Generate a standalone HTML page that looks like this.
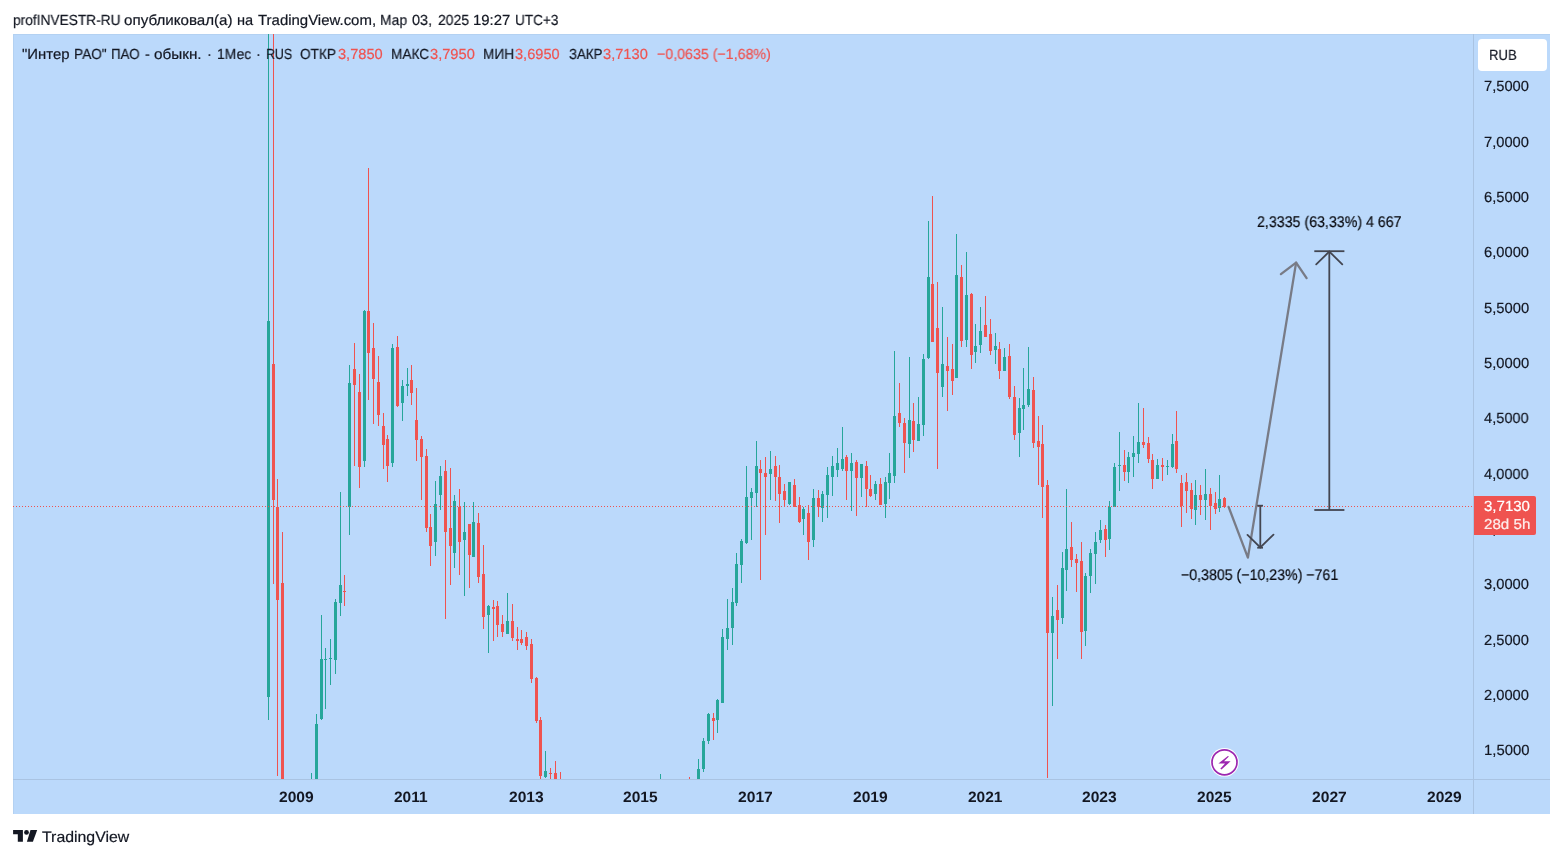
<!DOCTYPE html>
<html><head><meta charset="utf-8"><title>chart</title>
<style>
html,body{margin:0;padding:0;background:#fff;}
body{width:1563px;height:858px;position:relative;overflow:hidden;font-family:"Liberation Sans", sans-serif;}
.t{position:absolute;white-space:pre;transform-origin:0 0;display:block;will-change:transform;text-rendering:geometricPrecision;-webkit-text-stroke:0.2px;}
#chart{position:absolute;left:13px;top:34px;width:1537px;height:780px;background:#BBD9FB;}
svg{position:absolute;left:0;top:0;}
</style></head><body>
<div id="chart"></div>
<svg width="1563" height="858" viewBox="0 0 1563 858">
<defs><clipPath id="cp"><rect x="13" y="34" width="1461" height="745"/></clipPath></defs>
<!-- borders -->
<rect x="13" y="34" width="1537" height="1" fill="#B3D1F2"/>
<rect x="13" y="34" width="1" height="780" fill="#B3D1F2"/>
<rect x="1473" y="34" width="1" height="780" fill="#A9C3E2"/>
<rect x="13" y="779" width="1537" height="1" fill="#A9C3E2"/>
<g clip-path="url(#cp)" shape-rendering="crispEdges">
<rect x="268" y="30" width="1" height="690" fill="#26A69A"/>
<rect x="267" y="321" width="3" height="376" fill="#26A69A"/>
<rect x="273" y="30" width="1" height="554" fill="#EF5350"/>
<rect x="272" y="364" width="3" height="136" fill="#EF5350"/>
<rect x="277" y="479" width="1" height="297" fill="#EF5350"/>
<rect x="276" y="507" width="3" height="93" fill="#EF5350"/>
<rect x="282" y="532" width="1" height="258" fill="#EF5350"/>
<rect x="281" y="583" width="3" height="207" fill="#EF5350"/>
<rect x="311" y="773" width="1" height="17" fill="#26A69A"/>
<rect x="310" y="779" width="3" height="11" fill="#26A69A"/>
<rect x="316" y="714" width="1" height="76" fill="#26A69A"/>
<rect x="315" y="724" width="3" height="66" fill="#26A69A"/>
<rect x="321" y="615" width="1" height="105" fill="#26A69A"/>
<rect x="320" y="659" width="3" height="60" fill="#26A69A"/>
<rect x="325" y="648" width="1" height="61" fill="#26A69A"/>
<rect x="324" y="659" width="3" height="1" fill="#26A69A"/>
<rect x="330" y="639" width="1" height="46" fill="#26A69A"/>
<rect x="329" y="658" width="3" height="1" fill="#26A69A"/>
<rect x="335" y="599" width="1" height="75" fill="#26A69A"/>
<rect x="334" y="602" width="3" height="58" fill="#26A69A"/>
<rect x="340" y="492" width="1" height="124" fill="#26A69A"/>
<rect x="339" y="585" width="3" height="18" fill="#26A69A"/>
<rect x="344" y="575" width="1" height="31" fill="#EF5350"/>
<rect x="343" y="591" width="3" height="1" fill="#EF5350"/>
<rect x="349" y="365" width="1" height="170" fill="#26A69A"/>
<rect x="348" y="383" width="3" height="124" fill="#26A69A"/>
<rect x="354" y="343" width="1" height="123" fill="#EF5350"/>
<rect x="353" y="369" width="3" height="16" fill="#EF5350"/>
<rect x="359" y="374" width="1" height="114" fill="#EF5350"/>
<rect x="358" y="392" width="3" height="75" fill="#EF5350"/>
<rect x="364" y="310" width="1" height="157" fill="#26A69A"/>
<rect x="363" y="311" width="3" height="150" fill="#26A69A"/>
<rect x="368" y="168" width="1" height="232" fill="#EF5350"/>
<rect x="367" y="311" width="3" height="42" fill="#EF5350"/>
<rect x="373" y="323" width="1" height="101" fill="#EF5350"/>
<rect x="372" y="348" width="3" height="31" fill="#EF5350"/>
<rect x="378" y="356" width="1" height="70" fill="#EF5350"/>
<rect x="377" y="382" width="3" height="33" fill="#EF5350"/>
<rect x="383" y="413" width="1" height="56" fill="#EF5350"/>
<rect x="382" y="426" width="3" height="19" fill="#EF5350"/>
<rect x="387" y="435" width="1" height="47" fill="#EF5350"/>
<rect x="386" y="439" width="3" height="27" fill="#EF5350"/>
<rect x="392" y="344" width="1" height="123" fill="#26A69A"/>
<rect x="391" y="348" width="3" height="115" fill="#26A69A"/>
<rect x="397" y="336" width="1" height="71" fill="#EF5350"/>
<rect x="396" y="347" width="3" height="59" fill="#EF5350"/>
<rect x="402" y="380" width="1" height="41" fill="#26A69A"/>
<rect x="401" y="386" width="3" height="17" fill="#26A69A"/>
<rect x="407" y="368" width="1" height="28" fill="#26A69A"/>
<rect x="406" y="384" width="3" height="2" fill="#26A69A"/>
<rect x="411" y="365" width="1" height="40" fill="#EF5350"/>
<rect x="410" y="380" width="3" height="13" fill="#EF5350"/>
<rect x="416" y="388" width="1" height="73" fill="#EF5350"/>
<rect x="415" y="420" width="3" height="20" fill="#EF5350"/>
<rect x="421" y="436" width="1" height="64" fill="#EF5350"/>
<rect x="420" y="439" width="3" height="18" fill="#EF5350"/>
<rect x="426" y="449" width="1" height="83" fill="#EF5350"/>
<rect x="425" y="456" width="3" height="72" fill="#EF5350"/>
<rect x="430" y="514" width="1" height="52" fill="#EF5350"/>
<rect x="429" y="527" width="3" height="19" fill="#EF5350"/>
<rect x="435" y="481" width="1" height="75" fill="#26A69A"/>
<rect x="434" y="504" width="3" height="38" fill="#26A69A"/>
<rect x="440" y="466" width="1" height="44" fill="#26A69A"/>
<rect x="439" y="476" width="3" height="19" fill="#26A69A"/>
<rect x="445" y="460" width="1" height="159" fill="#EF5350"/>
<rect x="444" y="471" width="3" height="61" fill="#EF5350"/>
<rect x="450" y="468" width="1" height="117" fill="#EF5350"/>
<rect x="449" y="528" width="3" height="18" fill="#EF5350"/>
<rect x="454" y="495" width="1" height="73" fill="#26A69A"/>
<rect x="453" y="501" width="3" height="52" fill="#26A69A"/>
<rect x="459" y="489" width="1" height="86" fill="#EF5350"/>
<rect x="458" y="507" width="3" height="35" fill="#EF5350"/>
<rect x="464" y="502" width="1" height="94" fill="#26A69A"/>
<rect x="463" y="532" width="3" height="8" fill="#26A69A"/>
<rect x="469" y="524" width="1" height="64" fill="#EF5350"/>
<rect x="468" y="524" width="3" height="31" fill="#EF5350"/>
<rect x="473" y="502" width="1" height="55" fill="#26A69A"/>
<rect x="472" y="522" width="3" height="35" fill="#26A69A"/>
<rect x="478" y="513" width="1" height="70" fill="#EF5350"/>
<rect x="477" y="523" width="3" height="54" fill="#EF5350"/>
<rect x="483" y="545" width="1" height="84" fill="#EF5350"/>
<rect x="482" y="574" width="3" height="43" fill="#EF5350"/>
<rect x="488" y="605" width="1" height="48" fill="#26A69A"/>
<rect x="487" y="606" width="3" height="9" fill="#26A69A"/>
<rect x="493" y="600" width="1" height="41" fill="#EF5350"/>
<rect x="492" y="607" width="3" height="2" fill="#EF5350"/>
<rect x="497" y="601" width="1" height="36" fill="#EF5350"/>
<rect x="496" y="606" width="3" height="19" fill="#EF5350"/>
<rect x="502" y="615" width="1" height="22" fill="#EF5350"/>
<rect x="501" y="624" width="3" height="8" fill="#EF5350"/>
<rect x="507" y="593" width="1" height="41" fill="#26A69A"/>
<rect x="506" y="621" width="3" height="13" fill="#26A69A"/>
<rect x="512" y="604" width="1" height="37" fill="#EF5350"/>
<rect x="511" y="621" width="3" height="17" fill="#EF5350"/>
<rect x="517" y="627" width="1" height="23" fill="#EF5350"/>
<rect x="516" y="639" width="3" height="2" fill="#EF5350"/>
<rect x="521" y="630" width="1" height="15" fill="#EF5350"/>
<rect x="520" y="639" width="3" height="4" fill="#EF5350"/>
<rect x="526" y="632" width="1" height="18" fill="#EF5350"/>
<rect x="525" y="637" width="3" height="9" fill="#EF5350"/>
<rect x="531" y="639" width="1" height="44" fill="#EF5350"/>
<rect x="530" y="644" width="3" height="35" fill="#EF5350"/>
<rect x="536" y="677" width="1" height="46" fill="#EF5350"/>
<rect x="535" y="678" width="3" height="43" fill="#EF5350"/>
<rect x="540" y="717" width="1" height="73" fill="#EF5350"/>
<rect x="539" y="720" width="3" height="56" fill="#EF5350"/>
<rect x="545" y="751" width="1" height="27" fill="#26A69A"/>
<rect x="544" y="771" width="3" height="6" fill="#26A69A"/>
<rect x="550" y="768" width="1" height="22" fill="#EF5350"/>
<rect x="549" y="773" width="3" height="1" fill="#EF5350"/>
<rect x="555" y="761" width="1" height="29" fill="#EF5350"/>
<rect x="554" y="773" width="3" height="17" fill="#EF5350"/>
<rect x="560" y="772" width="1" height="18" fill="#EF5350"/>
<rect x="559" y="779" width="3" height="11" fill="#EF5350"/>
<rect x="660" y="774" width="1" height="16" fill="#26A69A"/>
<rect x="659" y="779" width="3" height="11" fill="#26A69A"/>
<rect x="689" y="777" width="1" height="13" fill="#EF5350"/>
<rect x="688" y="779" width="3" height="11" fill="#EF5350"/>
<rect x="698" y="759" width="1" height="31" fill="#26A69A"/>
<rect x="697" y="769" width="3" height="21" fill="#26A69A"/>
<rect x="703" y="738" width="1" height="34" fill="#26A69A"/>
<rect x="702" y="741" width="3" height="28" fill="#26A69A"/>
<rect x="708" y="713" width="1" height="31" fill="#26A69A"/>
<rect x="707" y="714" width="3" height="27" fill="#26A69A"/>
<rect x="713" y="713" width="1" height="27" fill="#EF5350"/>
<rect x="712" y="718" width="3" height="3" fill="#EF5350"/>
<rect x="717" y="699" width="1" height="34" fill="#26A69A"/>
<rect x="716" y="700" width="3" height="20" fill="#26A69A"/>
<rect x="722" y="629" width="1" height="74" fill="#26A69A"/>
<rect x="721" y="637" width="3" height="66" fill="#26A69A"/>
<rect x="727" y="599" width="1" height="51" fill="#26A69A"/>
<rect x="726" y="628" width="3" height="11" fill="#26A69A"/>
<rect x="732" y="588" width="1" height="57" fill="#26A69A"/>
<rect x="731" y="602" width="3" height="26" fill="#26A69A"/>
<rect x="736" y="553" width="1" height="53" fill="#26A69A"/>
<rect x="735" y="564" width="3" height="39" fill="#26A69A"/>
<rect x="741" y="539" width="1" height="44" fill="#26A69A"/>
<rect x="740" y="541" width="3" height="24" fill="#26A69A"/>
<rect x="746" y="466" width="1" height="78" fill="#26A69A"/>
<rect x="745" y="497" width="3" height="46" fill="#26A69A"/>
<rect x="751" y="488" width="1" height="52" fill="#26A69A"/>
<rect x="750" y="492" width="3" height="6" fill="#26A69A"/>
<rect x="756" y="441" width="1" height="66" fill="#26A69A"/>
<rect x="755" y="466" width="3" height="27" fill="#26A69A"/>
<rect x="760" y="460" width="1" height="120" fill="#EF5350"/>
<rect x="759" y="469" width="3" height="4" fill="#EF5350"/>
<rect x="765" y="457" width="1" height="78" fill="#EF5350"/>
<rect x="764" y="473" width="3" height="4" fill="#EF5350"/>
<rect x="770" y="451" width="1" height="49" fill="#26A69A"/>
<rect x="769" y="469" width="3" height="5" fill="#26A69A"/>
<rect x="775" y="456" width="1" height="45" fill="#EF5350"/>
<rect x="774" y="466" width="3" height="11" fill="#EF5350"/>
<rect x="779" y="465" width="1" height="58" fill="#EF5350"/>
<rect x="778" y="477" width="3" height="17" fill="#EF5350"/>
<rect x="784" y="484" width="1" height="23" fill="#EF5350"/>
<rect x="783" y="491" width="3" height="9" fill="#EF5350"/>
<rect x="789" y="482" width="1" height="23" fill="#26A69A"/>
<rect x="788" y="482" width="3" height="22" fill="#26A69A"/>
<rect x="794" y="479" width="1" height="28" fill="#EF5350"/>
<rect x="793" y="485" width="3" height="22" fill="#EF5350"/>
<rect x="799" y="497" width="1" height="26" fill="#EF5350"/>
<rect x="798" y="505" width="3" height="17" fill="#EF5350"/>
<rect x="803" y="507" width="1" height="28" fill="#26A69A"/>
<rect x="802" y="509" width="3" height="10" fill="#26A69A"/>
<rect x="808" y="505" width="1" height="55" fill="#EF5350"/>
<rect x="807" y="513" width="3" height="29" fill="#EF5350"/>
<rect x="813" y="489" width="1" height="58" fill="#26A69A"/>
<rect x="812" y="498" width="3" height="42" fill="#26A69A"/>
<rect x="818" y="490" width="1" height="27" fill="#EF5350"/>
<rect x="817" y="498" width="3" height="9" fill="#EF5350"/>
<rect x="822" y="491" width="1" height="31" fill="#26A69A"/>
<rect x="821" y="494" width="3" height="14" fill="#26A69A"/>
<rect x="827" y="467" width="1" height="51" fill="#26A69A"/>
<rect x="826" y="475" width="3" height="20" fill="#26A69A"/>
<rect x="832" y="456" width="1" height="40" fill="#26A69A"/>
<rect x="831" y="466" width="3" height="11" fill="#26A69A"/>
<rect x="837" y="448" width="1" height="29" fill="#26A69A"/>
<rect x="836" y="463" width="3" height="7" fill="#26A69A"/>
<rect x="842" y="427" width="1" height="44" fill="#26A69A"/>
<rect x="841" y="459" width="3" height="10" fill="#26A69A"/>
<rect x="846" y="455" width="1" height="45" fill="#EF5350"/>
<rect x="845" y="457" width="3" height="14" fill="#EF5350"/>
<rect x="851" y="453" width="1" height="58" fill="#26A69A"/>
<rect x="850" y="463" width="3" height="8" fill="#26A69A"/>
<rect x="856" y="460" width="1" height="56" fill="#EF5350"/>
<rect x="855" y="462" width="3" height="16" fill="#EF5350"/>
<rect x="861" y="464" width="1" height="33" fill="#26A69A"/>
<rect x="860" y="464" width="3" height="14" fill="#26A69A"/>
<rect x="866" y="461" width="1" height="46" fill="#EF5350"/>
<rect x="865" y="466" width="3" height="23" fill="#EF5350"/>
<rect x="870" y="475" width="1" height="22" fill="#EF5350"/>
<rect x="869" y="489" width="3" height="7" fill="#EF5350"/>
<rect x="875" y="481" width="1" height="19" fill="#26A69A"/>
<rect x="874" y="484" width="3" height="10" fill="#26A69A"/>
<rect x="880" y="478" width="1" height="27" fill="#EF5350"/>
<rect x="879" y="484" width="3" height="21" fill="#EF5350"/>
<rect x="885" y="477" width="1" height="41" fill="#26A69A"/>
<rect x="884" y="482" width="3" height="22" fill="#26A69A"/>
<rect x="889" y="453" width="1" height="46" fill="#26A69A"/>
<rect x="888" y="473" width="3" height="10" fill="#26A69A"/>
<rect x="894" y="351" width="1" height="132" fill="#26A69A"/>
<rect x="893" y="416" width="3" height="60" fill="#26A69A"/>
<rect x="899" y="383" width="1" height="44" fill="#EF5350"/>
<rect x="898" y="413" width="3" height="10" fill="#EF5350"/>
<rect x="904" y="418" width="1" height="55" fill="#EF5350"/>
<rect x="903" y="423" width="3" height="20" fill="#EF5350"/>
<rect x="909" y="357" width="1" height="101" fill="#26A69A"/>
<rect x="908" y="420" width="3" height="24" fill="#26A69A"/>
<rect x="913" y="403" width="1" height="49" fill="#EF5350"/>
<rect x="912" y="421" width="3" height="19" fill="#EF5350"/>
<rect x="918" y="397" width="1" height="44" fill="#26A69A"/>
<rect x="917" y="424" width="3" height="17" fill="#26A69A"/>
<rect x="923" y="354" width="1" height="82" fill="#26A69A"/>
<rect x="922" y="359" width="3" height="66" fill="#26A69A"/>
<rect x="928" y="221" width="1" height="138" fill="#26A69A"/>
<rect x="927" y="277" width="3" height="81" fill="#26A69A"/>
<rect x="932" y="196" width="1" height="146" fill="#EF5350"/>
<rect x="931" y="284" width="3" height="58" fill="#EF5350"/>
<rect x="937" y="282" width="1" height="187" fill="#EF5350"/>
<rect x="936" y="328" width="3" height="45" fill="#EF5350"/>
<rect x="942" y="307" width="1" height="90" fill="#26A69A"/>
<rect x="941" y="364" width="3" height="23" fill="#26A69A"/>
<rect x="947" y="337" width="1" height="74" fill="#EF5350"/>
<rect x="946" y="366" width="3" height="5" fill="#EF5350"/>
<rect x="952" y="344" width="1" height="51" fill="#EF5350"/>
<rect x="951" y="369" width="3" height="12" fill="#EF5350"/>
<rect x="956" y="234" width="1" height="144" fill="#26A69A"/>
<rect x="955" y="275" width="3" height="103" fill="#26A69A"/>
<rect x="961" y="265" width="1" height="82" fill="#EF5350"/>
<rect x="960" y="277" width="3" height="64" fill="#EF5350"/>
<rect x="966" y="252" width="1" height="95" fill="#26A69A"/>
<rect x="965" y="295" width="3" height="45" fill="#26A69A"/>
<rect x="971" y="293" width="1" height="76" fill="#EF5350"/>
<rect x="970" y="294" width="3" height="61" fill="#EF5350"/>
<rect x="975" y="324" width="1" height="39" fill="#26A69A"/>
<rect x="974" y="346" width="3" height="6" fill="#26A69A"/>
<rect x="980" y="307" width="1" height="46" fill="#26A69A"/>
<rect x="979" y="331" width="3" height="14" fill="#26A69A"/>
<rect x="985" y="296" width="1" height="41" fill="#EF5350"/>
<rect x="984" y="325" width="3" height="12" fill="#EF5350"/>
<rect x="990" y="319" width="1" height="36" fill="#EF5350"/>
<rect x="989" y="334" width="3" height="17" fill="#EF5350"/>
<rect x="995" y="333" width="1" height="31" fill="#26A69A"/>
<rect x="994" y="346" width="3" height="4" fill="#26A69A"/>
<rect x="999" y="342" width="1" height="37" fill="#EF5350"/>
<rect x="998" y="349" width="3" height="22" fill="#EF5350"/>
<rect x="1004" y="348" width="1" height="23" fill="#26A69A"/>
<rect x="1003" y="357" width="3" height="14" fill="#26A69A"/>
<rect x="1009" y="344" width="1" height="55" fill="#EF5350"/>
<rect x="1008" y="356" width="3" height="41" fill="#EF5350"/>
<rect x="1014" y="386" width="1" height="54" fill="#EF5350"/>
<rect x="1013" y="397" width="3" height="38" fill="#EF5350"/>
<rect x="1019" y="398" width="1" height="59" fill="#26A69A"/>
<rect x="1018" y="408" width="3" height="25" fill="#26A69A"/>
<rect x="1023" y="368" width="1" height="62" fill="#26A69A"/>
<rect x="1022" y="405" width="3" height="4" fill="#26A69A"/>
<rect x="1028" y="347" width="1" height="60" fill="#26A69A"/>
<rect x="1027" y="389" width="3" height="16" fill="#26A69A"/>
<rect x="1033" y="377" width="1" height="71" fill="#EF5350"/>
<rect x="1032" y="390" width="3" height="53" fill="#EF5350"/>
<rect x="1038" y="416" width="1" height="69" fill="#EF5350"/>
<rect x="1037" y="441" width="3" height="6" fill="#EF5350"/>
<rect x="1042" y="425" width="1" height="93" fill="#EF5350"/>
<rect x="1041" y="444" width="3" height="43" fill="#EF5350"/>
<rect x="1047" y="480" width="1" height="298" fill="#EF5350"/>
<rect x="1046" y="485" width="3" height="148" fill="#EF5350"/>
<rect x="1052" y="597" width="1" height="109" fill="#26A69A"/>
<rect x="1051" y="616" width="3" height="17" fill="#26A69A"/>
<rect x="1057" y="585" width="1" height="74" fill="#EF5350"/>
<rect x="1056" y="610" width="3" height="10" fill="#EF5350"/>
<rect x="1062" y="552" width="1" height="72" fill="#26A69A"/>
<rect x="1061" y="568" width="3" height="50" fill="#26A69A"/>
<rect x="1066" y="489" width="1" height="102" fill="#26A69A"/>
<rect x="1065" y="549" width="3" height="21" fill="#26A69A"/>
<rect x="1071" y="522" width="1" height="45" fill="#EF5350"/>
<rect x="1070" y="547" width="3" height="13" fill="#EF5350"/>
<rect x="1076" y="554" width="1" height="38" fill="#EF5350"/>
<rect x="1075" y="559" width="3" height="4" fill="#EF5350"/>
<rect x="1081" y="542" width="1" height="117" fill="#EF5350"/>
<rect x="1080" y="561" width="3" height="71" fill="#EF5350"/>
<rect x="1085" y="573" width="1" height="73" fill="#26A69A"/>
<rect x="1084" y="576" width="3" height="55" fill="#26A69A"/>
<rect x="1090" y="549" width="1" height="44" fill="#26A69A"/>
<rect x="1089" y="553" width="3" height="23" fill="#26A69A"/>
<rect x="1095" y="532" width="1" height="52" fill="#26A69A"/>
<rect x="1094" y="542" width="3" height="12" fill="#26A69A"/>
<rect x="1100" y="520" width="1" height="23" fill="#26A69A"/>
<rect x="1099" y="530" width="3" height="10" fill="#26A69A"/>
<rect x="1105" y="525" width="1" height="32" fill="#EF5350"/>
<rect x="1104" y="529" width="3" height="11" fill="#EF5350"/>
<rect x="1109" y="501" width="1" height="49" fill="#26A69A"/>
<rect x="1108" y="507" width="3" height="32" fill="#26A69A"/>
<rect x="1114" y="463" width="1" height="44" fill="#26A69A"/>
<rect x="1113" y="467" width="3" height="40" fill="#26A69A"/>
<rect x="1119" y="432" width="1" height="59" fill="#26A69A"/>
<rect x="1118" y="465" width="3" height="1" fill="#26A69A"/>
<rect x="1124" y="450" width="1" height="31" fill="#EF5350"/>
<rect x="1123" y="465" width="3" height="7" fill="#EF5350"/>
<rect x="1128" y="452" width="1" height="31" fill="#26A69A"/>
<rect x="1127" y="457" width="3" height="15" fill="#26A69A"/>
<rect x="1133" y="436" width="1" height="41" fill="#26A69A"/>
<rect x="1132" y="453" width="3" height="4" fill="#26A69A"/>
<rect x="1138" y="403" width="1" height="60" fill="#26A69A"/>
<rect x="1137" y="442" width="3" height="12" fill="#26A69A"/>
<rect x="1143" y="408" width="1" height="40" fill="#EF5350"/>
<rect x="1142" y="442" width="3" height="3" fill="#EF5350"/>
<rect x="1148" y="437" width="1" height="26" fill="#EF5350"/>
<rect x="1147" y="443" width="3" height="16" fill="#EF5350"/>
<rect x="1152" y="454" width="1" height="35" fill="#EF5350"/>
<rect x="1151" y="460" width="3" height="19" fill="#EF5350"/>
<rect x="1157" y="459" width="1" height="20" fill="#26A69A"/>
<rect x="1156" y="465" width="3" height="14" fill="#26A69A"/>
<rect x="1162" y="458" width="1" height="23" fill="#EF5350"/>
<rect x="1161" y="465" width="3" height="2" fill="#EF5350"/>
<rect x="1167" y="460" width="1" height="15" fill="#26A69A"/>
<rect x="1166" y="466" width="3" height="1" fill="#26A69A"/>
<rect x="1172" y="434" width="1" height="34" fill="#26A69A"/>
<rect x="1171" y="444" width="3" height="23" fill="#26A69A"/>
<rect x="1176" y="411" width="1" height="62" fill="#EF5350"/>
<rect x="1175" y="441" width="3" height="28" fill="#EF5350"/>
<rect x="1181" y="475" width="1" height="52" fill="#EF5350"/>
<rect x="1180" y="483" width="3" height="23" fill="#EF5350"/>
<rect x="1186" y="473" width="1" height="40" fill="#EF5350"/>
<rect x="1185" y="482" width="3" height="9" fill="#EF5350"/>
<rect x="1191" y="483" width="1" height="36" fill="#EF5350"/>
<rect x="1190" y="490" width="3" height="19" fill="#EF5350"/>
<rect x="1195" y="480" width="1" height="45" fill="#26A69A"/>
<rect x="1194" y="495" width="3" height="15" fill="#26A69A"/>
<rect x="1200" y="485" width="1" height="30" fill="#EF5350"/>
<rect x="1199" y="495" width="3" height="5" fill="#EF5350"/>
<rect x="1205" y="469" width="1" height="51" fill="#26A69A"/>
<rect x="1204" y="494" width="3" height="6" fill="#26A69A"/>
<rect x="1210" y="488" width="1" height="42" fill="#EF5350"/>
<rect x="1209" y="494" width="3" height="12" fill="#EF5350"/>
<rect x="1215" y="492" width="1" height="22" fill="#EF5350"/>
<rect x="1214" y="503" width="3" height="6" fill="#EF5350"/>
<rect x="1219" y="475" width="1" height="37" fill="#26A69A"/>
<rect x="1218" y="499" width="3" height="9" fill="#26A69A"/>
<rect x="1224" y="497" width="1" height="11" fill="#EF5350"/>
<rect x="1223" y="498" width="3" height="9" fill="#EF5350"/>
</g>
<!-- price line -->
<line x1="13" y1="506.5" x2="1474" y2="506.5" stroke="#EF5350" stroke-width="1" stroke-dasharray="1 2" shape-rendering="crispEdges"/>
<!-- RUB box -->
<rect x="1478" y="39" width="69" height="32" rx="4" fill="#fff"/>
<!-- gray forecast polyline with arrow -->
<g fill="none" stroke="#787B86" stroke-width="2.3" stroke-linecap="round" stroke-linejoin="round">
<polyline points="1228.6,506.9 1247.9,557.6 1296.1,262.6"/>
<polyline points="1280.9,274.1 1296.1,262.6 1306.6,278.1"/>
</g>
<!-- long measure arrow -->
<g fill="none" stroke="#434651" stroke-width="1.8" stroke-linecap="butt">
<line x1="1329.3" y1="251.2" x2="1329.3" y2="510"/>
<line x1="1314.3" y1="251.2" x2="1344.4" y2="251.2"/>
<line x1="1314.3" y1="510" x2="1344.4" y2="510"/>
<polyline points="1316.2,264.3 1329.3,251.6 1342.3,264.3" stroke-linecap="round"/>
</g>
<!-- short measure arrow -->
<g fill="none" stroke="#434651" stroke-width="1.8" stroke-linecap="butt">
<line x1="1260.3" y1="505.7" x2="1260.3" y2="547.7"/>
<line x1="1257.2" y1="505.7" x2="1263" y2="505.7"/>
<line x1="1257.2" y1="547.7" x2="1263" y2="547.7"/>
<polyline points="1247.5,534.9 1260.3,547.4 1273.5,534.6" stroke-linecap="round"/>
</g>
<!-- lightning icon -->
<circle cx="1224.5" cy="762.3" r="14.3" fill="#fff"/>
<circle cx="1224.5" cy="762.3" r="12.5" fill="none" stroke="#9C27B0" stroke-width="1.7"/>
<path d="M1227.9,756 L1218.4,763.5 L1225,763.5 L1220.3,768.7 L1221.5,769.4 L1230.6,761.3 L1224,761.3 L1228.9,756.4 Z" fill="#9C27B0"/>
<!-- TradingView logo -->
<g fill="#131722">
<path d="M13.1,830 H22.9 V841.8 H17.8 V834.3 H13.1 Z"/>
<circle cx="26.5" cy="832.4" r="2.4"/>
<path d="M30.5,830 H37.2 L32.9,841.8 H26.9 Z"/>
</g>

</svg>
<span class="t" id="h1" style="left:12.66px;top:12.80px;font-size:14.6px;line-height:16.775px;color:#131722;font-weight:normal;transform:scaleX(0.9405)">profINVESTR-RU</span>
<span class="t" id="h2" style="left:124.25px;top:12.80px;font-size:14.6px;line-height:16.775px;color:#131722;font-weight:normal;transform:scaleX(1.0384)">опубликовал(а)</span>
<span class="t" id="h3" style="left:237.41px;top:12.80px;font-size:14.6px;line-height:16.775px;color:#131722;font-weight:normal;transform:scaleX(0.9931)">на</span>
<span class="t" id="h4" style="left:258.06px;top:12.80px;font-size:14.6px;line-height:16.775px;color:#131722;font-weight:normal;transform:scaleX(1.0249)">TradingView.com,</span>
<span class="t" id="h5" style="left:380.04px;top:12.80px;font-size:14.6px;line-height:16.775px;color:#131722;font-weight:normal;transform:scaleX(0.9487)">Мар</span>
<span class="t" id="h6" style="left:412.41px;top:12.80px;font-size:14.6px;line-height:16.775px;color:#131722;font-weight:normal;transform:scaleX(0.9889)">03,</span>
<span class="t" id="h7" style="left:437.52px;top:12.80px;font-size:14.6px;line-height:16.775px;color:#131722;font-weight:normal;transform:scaleX(0.9594)">2025</span>
<span class="t" id="h8" style="left:473.18px;top:12.80px;font-size:14.6px;line-height:16.775px;color:#131722;font-weight:normal;transform:scaleX(1.0229)">19:27</span>
<span class="t" id="h9" style="left:514.87px;top:12.80px;font-size:14.6px;line-height:16.775px;color:#131722;font-weight:normal;transform:scaleX(0.9311)">UTC+3</span>
<span class="t" id="l1a" style="left:22.36px;top:47.00px;font-size:14.6px;line-height:16.775px;color:#131722;font-weight:normal;transform:scaleX(1.0208)">"Интер</span>
<span class="t" id="l1b" style="left:73.74px;top:47.00px;font-size:14.6px;line-height:16.775px;color:#131722;font-weight:normal;transform:scaleX(0.9407)">РАО"</span>
<span class="t" id="l1c" style="left:110.59px;top:47.00px;font-size:14.6px;line-height:16.775px;color:#131722;font-weight:normal;transform:scaleX(0.9127)">ПАО</span>
<span class="t" id="l1d" style="left:144.76px;top:47.00px;font-size:14.6px;line-height:16.775px;color:#131722;font-weight:normal;transform:scaleX(1.0000)">-</span>
<span class="t" id="l1e" style="left:153.64px;top:47.00px;font-size:14.6px;line-height:16.775px;color:#131722;font-weight:normal;transform:scaleX(1.0474)">обыкн.</span>
<span class="t" id="l2" style="left:206.62px;top:47.00px;font-size:14.6px;line-height:16.775px;color:#131722;font-weight:normal;transform:scaleX(1.0000)">·</span>
<span class="t" id="l3" style="left:217.24px;top:47.00px;font-size:14.6px;line-height:16.775px;color:#131722;font-weight:normal;transform:scaleX(0.9552)">1Мес</span>
<span class="t" id="l4" style="left:256.37px;top:47.00px;font-size:14.6px;line-height:16.775px;color:#131722;font-weight:normal;transform:scaleX(1.0000)">·</span>
<span class="t" id="l5" style="left:265.54px;top:47.00px;font-size:14.6px;line-height:16.775px;color:#131722;font-weight:normal;transform:scaleX(0.8488)">RUS</span>
<span class="t" id="l6" style="left:300.42px;top:47.00px;font-size:14.6px;line-height:16.775px;color:#131722;font-weight:normal;transform:scaleX(0.9355)">ОТКР</span>
<span class="t" id="l7" style="left:337.97px;top:47.00px;font-size:14.6px;line-height:16.775px;color:#EF5350;font-weight:normal;transform:scaleX(1.0008)">3,7850</span>
<span class="t" id="l8" style="left:391.25px;top:47.00px;font-size:14.6px;line-height:16.775px;color:#131722;font-weight:normal;transform:scaleX(0.9337)">МАКС</span>
<span class="t" id="l9" style="left:430.06px;top:47.00px;font-size:14.6px;line-height:16.775px;color:#EF5350;font-weight:normal;transform:scaleX(1.0031)">3,7950</span>
<span class="t" id="l10" style="left:482.85px;top:47.00px;font-size:14.6px;line-height:16.775px;color:#131722;font-weight:normal;transform:scaleX(0.9328)">МИН</span>
<span class="t" id="l11" style="left:514.67px;top:47.00px;font-size:14.6px;line-height:16.775px;color:#EF5350;font-weight:normal;transform:scaleX(0.9985)">3,6950</span>
<span class="t" id="l12" style="left:568.63px;top:47.00px;font-size:14.6px;line-height:16.775px;color:#131722;font-weight:normal;transform:scaleX(0.9104)">ЗАКР</span>
<span class="t" id="l13" style="left:602.86px;top:47.00px;font-size:14.6px;line-height:16.775px;color:#EF5350;font-weight:normal;transform:scaleX(1.0031)">3,7130</span>
<span class="t" id="l14" style="left:657.32px;top:47.00px;font-size:14.6px;line-height:16.775px;color:#EF5350;font-weight:normal;transform:scaleX(0.9739)">−0,0635 (−1,68%)</span>
<span class="t" id="p0" style="left:1484.18px;top:79.40px;font-size:14.7px;line-height:16.890px;color:#131722;font-weight:normal;transform:scaleX(1.0003)">7,5000</span>
<span class="t" id="p1" style="left:1484.18px;top:134.73px;font-size:14.7px;line-height:16.890px;color:#131722;font-weight:normal;transform:scaleX(1.0003)">7,0000</span>
<span class="t" id="p2" style="left:1484.13px;top:190.06px;font-size:14.7px;line-height:16.890px;color:#131722;font-weight:normal;transform:scaleX(1.0014)">6,5000</span>
<span class="t" id="p3" style="left:1484.13px;top:245.39px;font-size:14.7px;line-height:16.890px;color:#131722;font-weight:normal;transform:scaleX(1.0014)">6,0000</span>
<span class="t" id="p4" style="left:1483.99px;top:300.72px;font-size:14.7px;line-height:16.890px;color:#131722;font-weight:normal;transform:scaleX(1.0045)">5,5000</span>
<span class="t" id="p5" style="left:1483.99px;top:356.05px;font-size:14.7px;line-height:16.890px;color:#131722;font-weight:normal;transform:scaleX(1.0045)">5,0000</span>
<span class="t" id="p6" style="left:1484.45px;top:411.38px;font-size:14.7px;line-height:16.890px;color:#131722;font-weight:normal;transform:scaleX(0.9941)">4,5000</span>
<span class="t" id="p7" style="left:1484.45px;top:466.71px;font-size:14.7px;line-height:16.890px;color:#131722;font-weight:normal;transform:scaleX(0.9941)">4,0000</span>
<span class="t" id="p8" style="left:1484.17px;top:522.04px;font-size:14.7px;line-height:16.890px;color:#131722;font-weight:normal;transform:scaleX(1.0006)">3,5000</span>
<span class="t" id="p9" style="left:1484.17px;top:577.37px;font-size:14.7px;line-height:16.890px;color:#131722;font-weight:normal;transform:scaleX(1.0006)">3,0000</span>
<span class="t" id="p10" style="left:1484.20px;top:632.70px;font-size:14.7px;line-height:16.890px;color:#131722;font-weight:normal;transform:scaleX(0.9998)">2,5000</span>
<span class="t" id="p11" style="left:1484.20px;top:688.03px;font-size:14.7px;line-height:16.890px;color:#131722;font-weight:normal;transform:scaleX(0.9998)">2,0000</span>
<span class="t" id="p12" style="left:1483.69px;top:743.36px;font-size:14.7px;line-height:16.890px;color:#131722;font-weight:normal;transform:scaleX(1.0113)">1,5000</span>
<span class="t" id="y2009" style="left:279.20px;top:789.70px;font-size:14.9px;line-height:17.120px;color:#131722;font-weight:bold;transform:scaleX(1.0467);-webkit-text-stroke:0">2009</span>
<span class="t" id="y2011" style="left:394.34px;top:789.70px;font-size:14.9px;line-height:17.120px;color:#131722;font-weight:bold;transform:scaleX(1.0390);-webkit-text-stroke:0">2011</span>
<span class="t" id="y2013" style="left:508.68px;top:789.70px;font-size:14.9px;line-height:17.120px;color:#131722;font-weight:bold;transform:scaleX(1.0475);-webkit-text-stroke:0">2013</span>
<span class="t" id="y2015" style="left:623.43px;top:789.70px;font-size:14.9px;line-height:17.120px;color:#131722;font-weight:bold;transform:scaleX(1.0426);-webkit-text-stroke:0">2015</span>
<span class="t" id="y2017" style="left:738.16px;top:789.70px;font-size:14.9px;line-height:17.120px;color:#131722;font-weight:bold;transform:scaleX(1.0495);-webkit-text-stroke:0">2017</span>
<span class="t" id="y2019" style="left:852.91px;top:789.70px;font-size:14.9px;line-height:17.120px;color:#131722;font-weight:bold;transform:scaleX(1.0467);-webkit-text-stroke:0">2019</span>
<span class="t" id="y2021" style="left:967.65px;top:789.70px;font-size:14.9px;line-height:17.120px;color:#131722;font-weight:bold;transform:scaleX(1.0407);-webkit-text-stroke:0">2021</span>
<span class="t" id="y2023" style="left:1082.39px;top:789.70px;font-size:14.9px;line-height:17.120px;color:#131722;font-weight:bold;transform:scaleX(1.0475);-webkit-text-stroke:0">2023</span>
<span class="t" id="y2025" style="left:1197.13px;top:789.70px;font-size:14.9px;line-height:17.120px;color:#131722;font-weight:bold;transform:scaleX(1.0426);-webkit-text-stroke:0">2025</span>
<span class="t" id="y2027" style="left:1311.87px;top:789.70px;font-size:14.9px;line-height:17.120px;color:#131722;font-weight:bold;transform:scaleX(1.0495);-webkit-text-stroke:0">2027</span>
<span class="t" id="y2029" style="left:1426.62px;top:789.70px;font-size:14.9px;line-height:17.120px;color:#131722;font-weight:bold;transform:scaleX(1.0467);-webkit-text-stroke:0">2029</span>
<span class="t" id="rub" style="left:1488.69px;top:47.60px;font-size:14.7px;line-height:16.890px;color:#131722;font-weight:normal;transform:scaleX(0.8945)">RUB</span>
<span class="t" id="m1" style="left:1257.39px;top:214.42px;font-size:15.5px;line-height:17.809px;color:#0A0B10;font-weight:normal;transform:scaleX(0.9163)">2,3335 (63,33%) 4 667</span>
<span class="t" id="m2" style="left:1181.12px;top:567.29px;font-size:15.4px;line-height:17.695px;color:#0A0B10;font-weight:normal;transform:scaleX(0.9209)">−0,3805 (−10,23%) −761</span>
<div style="position:absolute;left:1474px;top:496px;width:62.2px;height:38.9px;border-radius:0 2px 2px 0;background:#EF5350"></div>
<span class="t" id="pl1" style="left:1484.35px;top:498.70px;font-size:14.7px;line-height:16.890px;color:#FFFFFF;font-weight:normal;transform:scaleX(1.0233)">3,7130</span>
<span class="t" id="pl2" style="left:1484.39px;top:516.80px;font-size:14.4px;line-height:16.546px;color:rgba(255,255,255,0.88);font-weight:normal;transform:scaleX(1.0522)">28d 5h</span>
<span class="t" id="tv" style="left:42.04px;top:828.94px;font-size:15.3px;line-height:17.580px;color:#131722;font-weight:normal;transform:scaleX(1.0365)">TradingView</span>
</body></html>
